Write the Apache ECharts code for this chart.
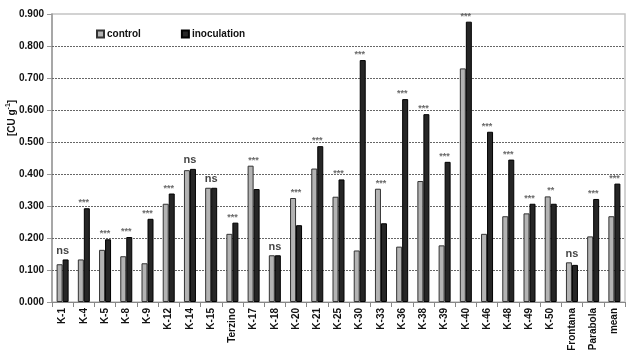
<!DOCTYPE html>
<html><head><meta charset="utf-8">
<script src="https://cdn.jsdelivr.net/npm/echarts@6/dist/echarts.min.js"></script>
<style>html,body{margin:0;padding:0;background:#fff}#c{width:631px;height:356px}</style>
</head><body><div id="c"></div>
<script>
const categories = ['K-1','K-4','K-5','K-8','K-9','K-12','K-14','K-15','Terzino','K-17','K-18','K-20','K-21','K-25','K-30','K-33','K-36','K-38','K-39','K-40','K-46','K-48','K-49','K-50','Frontana','Parabola','mean'];
const control = [0.118,0.133,0.163,0.143,0.121,0.307,0.412,0.357,0.213,0.426,0.146,0.325,0.417,0.329,0.161,0.354,0.173,0.378,0.177,0.730,0.213,0.268,0.277,0.330,0.124,0.205,0.268];
const inoculation = [0.133,0.293,0.196,0.203,0.260,0.339,0.416,0.357,0.248,0.353,0.146,0.240,0.487,0.383,0.756,0.246,0.634,0.587,0.438,0.876,0.532,0.445,0.307,0.307,0.116,0.322,0.370];
const significance = ['ns','***','***','***','***','***','ns','ns','***','***','ns','***','***','***','***','***','***','***','***','***','***','***','***','**','ns','***','***'];
const yTicks = [0,0.1,0.2,0.3,0.4,0.5,0.6,0.7,0.8,0.9];

const chart = echarts.init(document.getElementById('c'));
const font = 'Arial, "Liberation Sans", sans-serif';
const gridLines = yTicks.slice(1, -1).map(v => ({ yAxis: v }));
chart.setOption({
  animation: false,
  backgroundColor: '#fff',
  textStyle: { fontFamily: font },
  grid: { left: 52, right: 6, top: 14, bottom: 54, show: true, borderColor: '#c4c4c4', borderWidth: 1.5 },
  legend: {
    data: ['control', 'inoculation'], left: 91, top: 24, itemWidth: 7, itemHeight: 7, itemGap: 40,
    textStyle: { fontWeight: 'bold', fontSize: 10, color: '#111', fontFamily: font, padding: [0,0,0,-2] },
    icon: 'rect'
  },
  graphic: [{
    type: 'text', x: 11, y: 118, rotation: Math.PI / 2,
    style: {
      text: '{a|[CU g}{s|-1}{a|]}', align: 'center', verticalAlign: 'middle', fill: '#111',
      rich: {
        a: { fontSize: 10, fontWeight: 'bold', fontFamily: font, fill: '#111', lineHeight: 12, verticalAlign: 'bottom' },
        s: { fontSize: 7, fontWeight: 'bold', fontFamily: font, fill: '#111', lineHeight: 12, verticalAlign: 'top' }
      }
    }
  }],
  xAxis: {
    type: 'category', data: categories,
    axisLine: { lineStyle: { color: '#888', width: 1 } },
    axisTick: { show: true, length: 5, lineStyle: { color: '#888' } },
    axisLabel: { rotate: 90, interval: 0, fontSize: 10, fontWeight: 'bold', color: '#111', margin: 6, fontFamily: font }
  },
  yAxis: {
    type: 'value', min: yTicks[0], max: yTicks[yTicks.length - 1], interval: 0.1,
    axisLine: { show: true, lineStyle: { color: '#999', width: 1.5 } },
    axisTick: { show: true, length: 5, lineStyle: { color: '#999' } },
    axisLabel: { formatter: v => v.toFixed(3), fontSize: 10, fontWeight: 'bold', color: '#111', margin: 8, fontFamily: font },
    splitLine: { show: false }
  },
  series: [
    { name: 'control', type: 'bar', data: control, barWidth: 6, barGap: '0%', z: 3,
      itemStyle: { color: '#b3b3b3', borderColor: '#333', borderWidth: 1 },
      markLine: { silent: true, symbol: 'none', label: { show: false }, z: 1,
        lineStyle: { type: [2, 1], color: '#666', width: 1 }, data: gridLines } },
    { name: 'inoculation', type: 'bar', data: inoculation, barWidth: 6, z: 3,
      itemStyle: { color: '#262626', borderColor: '#000', borderWidth: 1 } },
    { name: 'sig', type: 'scatter', symbolSize: 0, silent: true, z: 4,
      data: categories.map((c, i) => ({
        value: Math.max(control[i], inoculation[i]),
        label: significance[i] === 'ns'
          ? { show: true, position: 'top', distance: 3, formatter: 'ns', fontSize: 11, fontWeight: 'bold', color: '#111', fontFamily: font }
          : { show: true, position: 'top', distance: 1, formatter: significance[i], fontSize: 9, fontWeight: 'bold', color: '#444', fontFamily: font }
      }))
    }
  ]
});
</script></body></html>
